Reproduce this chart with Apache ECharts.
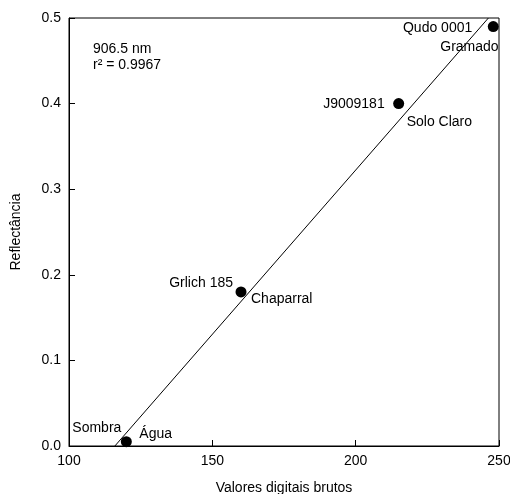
<!DOCTYPE html>
<html>
<head>
<meta charset="utf-8">
<script src="https://cdn.jsdelivr.net/npm/echarts@6/dist/echarts.min.js"></script>
<style>
  html, body { margin: 0; padding: 0; background: #fff; }
  #chart { width: 510px; height: 494px; }
</style>
</head>
<body>
<div id="chart"></div>
<script>
// sample points (raw DN vs reflectance)
const pointX = [120, 160, 215, 248];
const pointY = [0.005, 0.18, 0.40, 0.49];
const leftNames = ["Sombra", "Grlich 185", "J9009181", "Qudo 0001"];
const rightNames = ["Água", "Chaparral", "Solo Claro", "Gramado"];

// regression line end points
const fitX = [116, 246.3];
const fitY = [0, 0.5];

const xTicks = [100, 150, 200, 250];
const yTicks = [0.0, 0.1, 0.2, 0.3, 0.4, 0.5];

// label offsets from each dot center, [dx, dy]
const leftOffsets = [[-5, -14], [-8, -9], [-14, 1], [-21, 2]];
const rightOffsets = [[13, -8], [10, 7], [8, 19], [-53, 21]];

const font = "Liberation Sans, Arial, sans-serif";
const chart = echarts.init(document.getElementById("chart"));

function labelled(names, offsets, align) {
  let out = [];
  for (let i = 0; i < pointX.length; i++) {
    out.push({
      value: [pointX[i], pointY[i]],
      label: {
        show: true,
        formatter: names[i],
        position: "inside",
        align: align,
        verticalAlign: "middle",
        offset: offsets[i],
        color: "#000",
        textBorderWidth: 0,
      },
    });
  }
  return out;
}

const labelStyle = { color: "#000", fontSize: 14, fontFamily: font };

const option = {
  animation: false,
  grid: {
    left: 69, right: 11, top: 18, bottom: 48,
    outerBoundsMode: "none",
    show: true, borderColor: "#000", borderWidth: 1,
  },
  xAxis: {
    type: "value",
    min: xTicks[0], max: xTicks[xTicks.length - 1], interval: 50,
    name: "Valores digitais brutos",
    nameLocation: "middle", nameGap: 35,
    nameTextStyle: { color: "#000", fontSize: 14, fontFamily: font },
    axisLine: { lineStyle: { color: "#000" } },
    axisTick: { inside: true, length: 6, lineStyle: { color: "#000" } },
    axisLabel: { color: "#000", fontSize: 14, fontFamily: font, margin: 8 },
    splitLine: { show: false },
  },
  yAxis: {
    type: "value",
    min: yTicks[0], max: yTicks[yTicks.length - 1], interval: 0.1,
    name: "Reflectância",
    nameLocation: "middle", nameGap: 46,
    nameTextStyle: { color: "#000", fontSize: 14, fontFamily: font },
    axisLine: { show: true, lineStyle: { color: "#000" } },
    axisTick: { show: true, inside: true, length: 6, lineStyle: { color: "#000" } },
    axisLabel: {
      color: "#000", fontSize: 14, fontFamily: font, margin: 8,
      formatter: (v) => v.toFixed(1),
    },
    splitLine: { show: false },
  },
  graphic: [
    { type: "text", left: 93, top: 42, style: { text: "906.5 nm", fill: "#000", font: "14px " + font } },
    { type: "text", left: 93, top: 58, style: { text: "r² = 0.9967", fill: "#000", font: "14px " + font } },
  ],
  series: [
    {
      type: "line",
      data: fitX.map((x, i) => [x, fitY[i]]),
      symbol: "none",
      lineStyle: { color: "#000", width: 1 },
      z: 1,
    },
    {
      type: "scatter",
      data: labelled(leftNames, leftOffsets, "right"),
      symbolSize: 11,
      itemStyle: { color: "#000", opacity: 1 },
      label: labelStyle,
      z: 3,
    },
    {
      type: "scatter",
      data: labelled(rightNames, rightOffsets, "left"),
      symbolSize: 11,
      itemStyle: { color: "rgba(0,0,0,0)", opacity: 1 },
      label: labelStyle,
      z: 2,
    },
  ],
};

chart.setOption(option);
</script>
</body>
</html>
